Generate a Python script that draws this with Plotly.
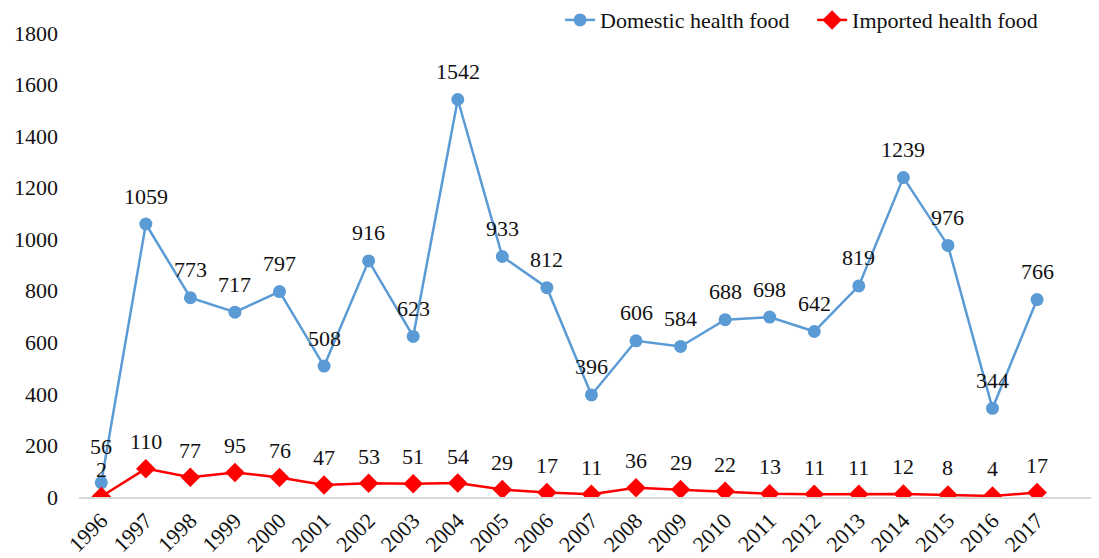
import plotly.graph_objects as go

years = [str(y) for y in range(1996, 2018)]
domestic = [56, 1059, 773, 717, 797, 508, 916, 623, 1542, 933, 812, 396, 606, 584,
            688, 698, 642, 819, 1239, 976, 344, 766]
imported = [2, 110, 77, 95, 76, 47, 53, 51, 54, 29, 17, 11, 36, 29, 22, 13, 11, 11,
            12, 8, 4, 17]
y_ticks = [0, 200, 400, 600, 800, 1000, 1200, 1400, 1600, 1800]

FONT = "Liberation Serif, Times New Roman, serif"
BLUE = "#5B9BD5"
RED = "#FF0000"
TXT = "#111111"
FS = 22

xs = list(range(len(years)))

fig = go.Figure()
fig.add_trace(go.Scatter(
    x=xs, y=domestic, mode="lines+markers", name="Domestic health food",
    line=dict(color=BLUE, width=2.5),
    marker=dict(symbol="circle", size=13, color=BLUE),
))
fig.add_trace(go.Scatter(
    x=xs, y=imported, mode="lines+markers", name="Imported health food",
    line=dict(color=RED, width=2.5),
    marker=dict(symbol="diamond", size=15, color=RED),
))

annotations = []
for i, v in enumerate(domestic):
    annotations.append(dict(x=xs[i], y=v, xref="x", yref="y", text=str(v),
                            showarrow=False, yshift=36 if i == 0 else 28,
                            font=dict(family=FONT, size=FS, color=TXT)))
for i, v in enumerate(imported):
    annotations.append(dict(x=xs[i], y=v, xref="x", yref="y", text=str(v),
                            showarrow=False, yshift=27,
                            font=dict(family=FONT, size=FS, color=TXT)))

fig.update_layout(
    width=1091, height=550,
    margin=dict(l=71, r=0, t=25, b=61, autoexpand=False),
    paper_bgcolor="white", plot_bgcolor="white",
    font=dict(family=FONT, size=FS, color=TXT),
    showlegend=True,
    annotations=annotations,
    legend=dict(orientation="h", xref="container", yref="container",
                x=0.968, xanchor="right", y=0.978, yanchor="middle",
                entrywidth=207, entrywidthmode="pixels",
                font=dict(family=FONT, size=FS, color=TXT),
                bgcolor="rgba(0,0,0,0)", tracegroupgap=0),
    xaxis=dict(range=[-0.5, 22.39], tickvals=xs, ticktext=years, tickangle=-45,
               automargin=False,
               showgrid=False, zeroline=False, showline=True, linecolor="#D9D9D9",
               linewidth=2, ticks="", tickfont=dict(family=FONT, size=FS, color=TXT)),
    yaxis=dict(range=[0, 1800], tickvals=y_ticks, showgrid=False, zeroline=False,
               automargin=False,
               showline=False, ticks="", ticklabelstandoff=20,
               tickfont=dict(family=FONT, size=FS, color=TXT)),
)

fig.write_html("out.html")
